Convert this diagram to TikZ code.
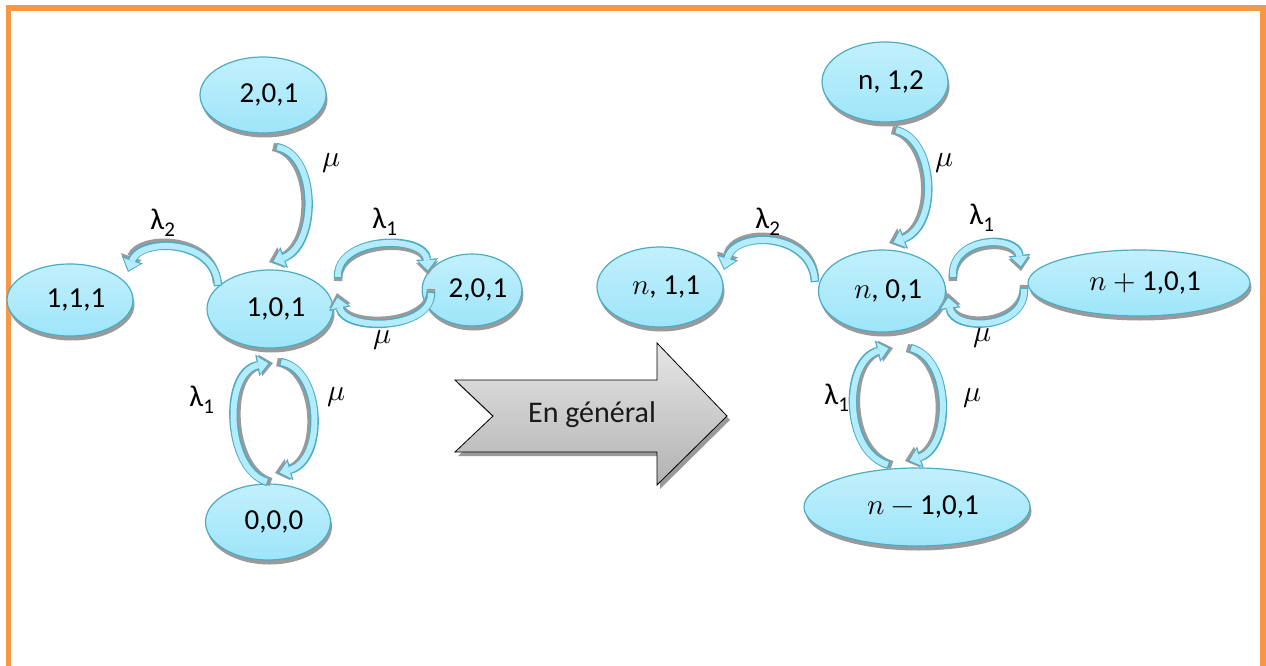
\documentclass[tikz,border=0pt]{standalone}
\usepackage{unicode-math}
\setmainfont{Carlito}
\usetikzlibrary{shapes.geometric,shadows,arrows.meta,calc}
\definecolor{orng}{HTML}{F79646}
\definecolor{bord}{HTML}{4BACC6}
\definecolor{ftop}{HTML}{C2F0FC}
\definecolor{fbot}{HTML}{9EE5FA}
\definecolor{afill}{HTML}{B4ECFB}
\definecolor{shd}{HTML}{9A9A9A}
\tikzset{
  st/.style={ellipse, draw=bord, line width=1.2pt, top color=ftop, bottom color=fbot,
    inner sep=0pt, font=\fontsize{29}{34}\selectfont,
    drop shadow={shadow xshift=1.5pt, shadow yshift=-4.5pt, fill=shd, opacity=1},
    execute at begin node=\hspace*{12pt}},
  arcsh/.style={draw=shd, line width=8.5pt, -{Triangle[width=22pt,length=13pt,line width=0pt]}},
  arcout/.style={draw=bord, line width=8.5pt, -{Triangle[width=22pt,length=13pt,line width=0pt]}},
  arcin/.style={draw=afill, line width=6pt, shorten >=1.7pt, shorten <=1.2pt,
    -{Triangle[width=17.5pt,length=10pt,line width=0pt]}},
  lab/.style={font=\fontsize{30}{34}\selectfont, inner sep=0pt},
  bigarrow/.style={draw=black, line width=0.8pt, top color=black!10, bottom color=black!30,
    drop shadow={shadow xshift=3pt, shadow yshift=-4pt, fill=shd, opacity=1}},
  frame/.style={draw=orng, line width=5.5pt, line join=miter}
}
\newcommand\barc[2]{%
  \draw[arcsh, transform canvas={shift={#1}}] #2;
  \draw[arcout] #2;
  \draw[arcin] #2;}
\begin{document}
\begin{tikzpicture}[x=1pt,y=-1pt]
\useasboundingbox (0,0) rectangle (1266,666);
\draw[frame] (8.5,666) -- (8.5,8) -- (1263,8) -- (1263,666);

% left states
\node[st, minimum width=126pt, minimum height=76pt] (t201) at (263,95) {2,0,1};
\node[st, minimum width=126pt, minimum height=78pt] (n101) at (270,309) {1,0,1};
\node[st, minimum width=126pt, minimum height=72pt] (n111) at (70,300) {1,1,1};
\node[st, minimum width=88pt, minimum height=72pt] (r201) at (472,290) {2,0,1};
\node[st, minimum width=125pt, minimum height=76pt] (b000) at (268,522) {0,0,0};

% right states
\node[st, minimum width=126pt, minimum height=80pt] (n112) at (885,82) {$\mathrm{n}$, 1,2};
\node[st, minimum width=126pt, minimum height=80pt] (n111r) at (660,287) {$n$, 1,1};
\node[st, minimum width=127pt, minimum height=82pt] (n01) at (882,291) {$n$, 0,1};
\node[st, minimum width=222pt, minimum height=66pt] (np1) at (1139,283) {$n+{}$1,0,1};
\node[st, minimum width=226pt, minimum height=78pt] (nm1) at (917,507) {$n-{}$1,0,1};

% left arcs
\barc{(-3pt,0pt)}{($(t201)+(13,52)$) .. controls +(42,7) and +(46,-17) .. ($(n101)+(2,-47)$)}
\barc{(-1pt,3pt)}{($(n101)+(-52,-23)$) .. controls +(-3,-48) and +(12,-34) .. ($(n111)+(58,-28)$)}
\barc{(0pt,-3pt)}{($(n101)+(68,-31)$) .. controls +(-2,-42) and +(-3,-38) .. ($(r201)+(-44,-18)$)}
\barc{(0pt,3pt)}{($(r201)+(-41,2)$) .. controls +(1,38) and +(8,36) .. ($(n101)+(67,-13)$)}
\barc{(3pt,0pt)}{($(b000)+(0,-40)$) .. controls +(-42,-12) and +(-48,9) .. ($(n101)+(0,54)$)}
\barc{(-3pt,0pt)}{($(n101)+(10,53)$) .. controls +(42,6) and +(48,-13) .. ($(b000)+(10,-49)$)}

% right arcs
\barc{(-3pt,0pt)}{($(n112)+(10,48)$) .. controls +(40,8) and +(48,-18) .. ($(n01)+(10,-48)$)}
\barc{(0pt,3pt)}{($(n01)+(-67,-9)$) .. controls +(-3,-50) and +(11,-40) .. ($(n111r)+(64,-17)$)}
\barc{(0pt,-3pt)}{($(n01)+(71,-13)$) .. controls +(-3,-42) and +(-4,-34) .. ($(np1)+(-118,-15)$)}
\barc{(0pt,3pt)}{($(np1)+(-115,5)$) .. controls +(2,42) and +(5,36) .. ($(n01)+(66,5)$)}
\barc{(3pt,0pt)}{($(nm1)+(-28,-42)$) .. controls +(-46,-13) and +(-47,12) .. ($(n01)+(8,57)$)}
\barc{(-3pt,0pt)}{($(n01)+(28,57)$) .. controls +(42,10) and +(44,-14) .. ($(nm1)+(-9,-46)$)}

% labels left
\node[lab] (la1) at (332,163) {$\mu$};
\node[lab] (la2) at (163,223) {λ\textsubscript{2}};
\node[lab] (la3) at (385,222) {λ\textsubscript{1}};
\node[lab] (la4) at (383,340) {$\mu$};
\node[lab] (la5) at (202,400) {λ\textsubscript{1}};
\node[lab] (la6) at (337,397) {$\mu$};
% labels right
\node[lab] (lb1) at (945,163) {$\mu$};
\node[lab] (lb2) at (768,222) {λ\textsubscript{2}};
\node[lab] (lb3) at (982,218) {λ\textsubscript{1}};
\node[lab] (lb4) at (983,338) {$\mu$};
\node[lab] (lb5) at (837,398) {λ\textsubscript{1}};
\node[lab] (lb6) at (973,398) {$\mu$};

% big arrow
\draw[bigarrow] (455,380) -- (657,380) -- (657,343) -- (727,416) -- (657,485)
  -- (657,452) -- (455,452) -- (493,416) -- cycle;
\node[lab, text=black!90] (gen) at (592,415) {En général};
\end{tikzpicture}
\end{document}
